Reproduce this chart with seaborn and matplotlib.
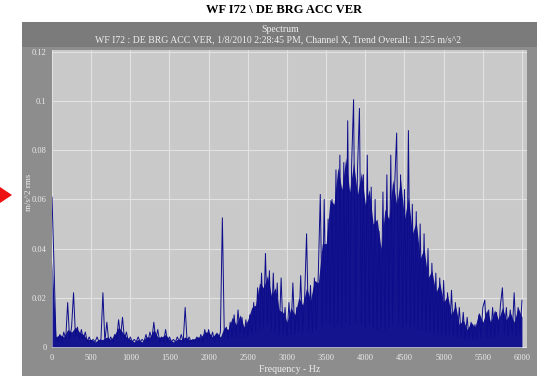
import numpy as np
import pandas as pd
import matplotlib
matplotlib.use("Agg")
import matplotlib.pyplot as plt
from matplotlib.patches import Rectangle, Polygon
import seaborn as sns

# Spectrum bins (Hz) and amplitude (m/s^2 rms) for each bin
freq_hz = np.arange(0, 6001, 25)
amplitude = [
    0.061, 0.034, 0.004, 0.002, 0.005, 0.002, 0.006, 0.003, 0.018, 0.003,
    0.008, 0.022, 0.004, 0.008, 0.003, 0.007, 0.003, 0.006, 0.002, 0.004,
    0.002, 0.003, 0.002, 0.004, 0.002, 0.003, 0.022, 0.002, 0.010, 0.002,
    0.004, 0.002, 0.005, 0.003, 0.011, 0.004, 0.012, 0.003, 0.006, 0.002,
    0.004, 0.002, 0.003, 0.002, 0.004, 0.002, 0.003, 0.002, 0.005, 0.002,
    0.006, 0.003, 0.010, 0.003, 0.007, 0.002, 0.004, 0.002, 0.007, 0.002,
    0.004, 0.002, 0.003, 0.002, 0.004, 0.002, 0.005, 0.002, 0.016, 0.002,
    0.004, 0.002, 0.003, 0.002, 0.004, 0.002, 0.005, 0.002, 0.007, 0.003,
    0.007, 0.003, 0.006, 0.002, 0.005, 0.003, 0.006, 0.0525, 0.004, 0.008,
    0.003, 0.010, 0.004, 0.013, 0.004, 0.015, 0.005, 0.012, 0.004, 0.011,
    0.004, 0.013, 0.005, 0.018, 0.006, 0.024, 0.007, 0.030, 0.008, 0.038,
    0.009, 0.031, 0.007, 0.030, 0.006, 0.026, 0.005, 0.028, 0.005, 0.016,
    0.004, 0.018, 0.005, 0.026, 0.005, 0.016, 0.006, 0.029, 0.006, 0.020,
    0.046, 0.006, 0.025, 0.006, 0.028, 0.007, 0.030, 0.062, 0.008, 0.060,
    0.010, 0.052, 0.009, 0.060, 0.008, 0.072, 0.009, 0.078, 0.008, 0.075,
    0.010, 0.092, 0.009, 0.074, 0.1006, 0.010, 0.072, 0.097, 0.009, 0.070,
    0.008, 0.078, 0.009, 0.065, 0.008, 0.060, 0.007, 0.047, 0.008, 0.063,
    0.007, 0.070, 0.008, 0.078, 0.009, 0.066, 0.087, 0.009, 0.070, 0.008,
    0.064, 0.009, 0.088, 0.008, 0.058, 0.008, 0.055, 0.007, 0.050, 0.007,
    0.046, 0.006, 0.040, 0.006, 0.034, 0.005, 0.030, 0.005, 0.028, 0.005,
    0.027, 0.004, 0.022, 0.005, 0.023, 0.004, 0.018, 0.004, 0.016, 0.004,
    0.014, 0.003, 0.012, 0.003, 0.010, 0.003, 0.009, 0.003, 0.013, 0.004,
    0.016, 0.019, 0.004, 0.015, 0.004, 0.016, 0.004, 0.014, 0.005, 0.017,
    0.024, 0.005, 0.016, 0.004, 0.015, 0.005, 0.022, 0.004, 0.016, 0.005,
    0.019,
]

# Height of the dense, solid part of the spectrum, every 50 Hz
band_freq_hz = np.arange(0, 6001, 50)
band_top = [
    0.035, 0.004, 0.005, 0.004, 0.007, 0.006, 0.008, 0.006, 0.005, 0.003,
    0.003, 0.002, 0.003, 0.003, 0.004, 0.003, 0.005, 0.008, 0.006, 0.004,
    0.003, 0.002, 0.003, 0.002, 0.004, 0.004, 0.007, 0.004, 0.004, 0.005,
    0.003, 0.002, 0.003, 0.003, 0.004, 0.003, 0.003, 0.004, 0.004, 0.006,
    0.006, 0.004, 0.006, 0.004, 0.008, 0.007, 0.012, 0.009, 0.013, 0.008,
    0.011, 0.016, 0.017, 0.026, 0.024, 0.029, 0.021, 0.024, 0.015, 0.014,
    0.010, 0.016, 0.013, 0.020, 0.017, 0.024, 0.019, 0.027, 0.026, 0.042,
    0.042, 0.060, 0.058, 0.073, 0.064, 0.077, 0.063, 0.075, 0.062, 0.071,
    0.058, 0.064, 0.050, 0.052, 0.040, 0.056, 0.052, 0.068, 0.058, 0.068,
    0.052, 0.061, 0.046, 0.051, 0.036, 0.040, 0.028, 0.031, 0.022, 0.026,
    0.018, 0.021, 0.013, 0.017, 0.009, 0.011, 0.007, 0.010, 0.008, 0.014,
    0.010, 0.015, 0.010, 0.015, 0.011, 0.016, 0.011, 0.014, 0.010, 0.016,
    0.012,
]

x_ticks = list(range(0, 6001, 500))
y_ticks = [0, 0.02, 0.04, 0.06, 0.08, 0.1, 0.12]
y_tick_labels = ["0", "0.02", "0.04", "0.06", "0.08", "0.1", "0.12"]

title = "WF I72 \\ DE BRG ACC VER"
panel_title = "Spectrum"
panel_subtitle = ("WF I72 : DE BRG ACC VER, 1/8/2010 2:28:45 PM, Channel X, "
                  "Trend Overall: 1.255 m/s^2")
x_label = "Frequency - Hz"
y_label = "m/s^2 rms"

df = pd.DataFrame({"freq": freq_hz, "amp": amplitude})
band = pd.DataFrame({"freq": band_freq_hz, "top": band_top})

sns.set_theme(style="white")
plt.rcParams["font.family"] = ["Liberation Serif", "DejaVu Serif"]

W, H = 548, 379
fig = plt.figure(figsize=(W / 100, H / 100), dpi=100)
fig.patch.set_facecolor("white")


def fx(px):
    return px / W


def fy(py):
    return 1 - py / H


# Outer instrument panel and its header strip
fig.add_artist(Rectangle((fx(22), fy(376)), fx(537) - fx(22), fy(22) - fy(376),
                         transform=fig.transFigure, facecolor="#8d8d8d",
                         edgecolor="none", zorder=0))
fig.add_artist(Rectangle((fx(22), fy(47)), fx(537) - fx(22), fy(22) - fy(47),
                         transform=fig.transFigure, facecolor="#7b7b7b",
                         edgecolor="none", zorder=0))

# Marker arrow at the left edge
fig.add_artist(Polygon([[fx(0), fy(187)], [fx(12), fy(195)], [fx(0), fy(203)]],
                       closed=True, transform=fig.transFigure,
                       facecolor="#ee1111", edgecolor="none"))

ax = fig.add_axes([fx(52), fy(348), fx(527) - fx(52), fy(50) - fy(348)])
ax.set_facecolor("#c9c9c9")

spec_color = "#0d0d8c"
ax.fill_between(band["freq"], 0, band["top"], color="#14148e", linewidth=0,
                zorder=2)
sns.lineplot(data=df, x="freq", y="amp", ax=ax, color=spec_color,
             linewidth=0.7, estimator=None, zorder=3)

ax.set_xlim(0, 6064)
ax.set_ylim(-0.0005, 0.1208)
ax.set_xticks(x_ticks)
ax.set_xticklabels([str(v) for v in x_ticks])
ax.set_yticks(y_ticks)
ax.set_yticklabels(y_tick_labels)
ax.grid(True, color="#e2e2e2", linewidth=0.8, zorder=1)
ax.set_axisbelow(True)
for s in ax.spines.values():
    s.set_visible(False)
ax.tick_params(axis="both", length=0, labelsize=6, colors="#ececec", pad=4)
ax.set_xlabel("")
ax.set_ylabel("")

fig.text(fx(284), fy(10), title, ha="center", va="center", fontsize=9,
         fontweight="bold", color="black")
fig.text(fx(280), fy(29), panel_title, ha="center", va="center", fontsize=7,
         color="#eeeeee")
fig.text(fx(278), fy(40), panel_subtitle, ha="center", va="center", fontsize=7,
         color="#eeeeee")
fig.text(fx(290), fy(370), x_label, ha="center", va="center", fontsize=7,
         color="#eeeeee")
fig.text(fx(29), fy(192), y_label, ha="center", va="center", fontsize=6.5,
         color="#eeeeee", rotation=90)

fig.savefig("out.png", dpi=100)
